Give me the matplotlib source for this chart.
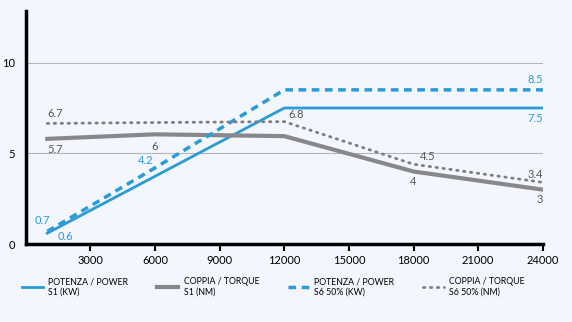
import matplotlib.pyplot as plt

plt.rcParams['font.family'] = ['Lato', 'DejaVu Sans']

rpm_power_s1 = [1000, 12000, 24000]
power_s1 = [0.6, 7.5, 7.5]

rpm_power_s6 = [1000, 6000, 12000, 24000]
power_s6 = [0.7, 4.2, 8.5, 8.5]

rpm_torque = [1000, 6000, 12000, 18000, 24000]
torque_s1 = [5.8, 6.05, 5.95, 4.0, 3.0]
torque_s6 = [6.65, 6.7, 6.75, 4.4, 3.4]

x_ticks = [3000, 6000, 9000, 12000, 15000, 18000, 21000, 24000]
y_ticks = [0, 5, 10]

blue = '#2a9bd5'
grey = '#88888c'
bg = '#f3f6fc'

fig = plt.figure(figsize=(5.72, 3.22), dpi=100, facecolor=bg)
ax = fig.add_axes([0.045, 0.242, 0.904, 0.724], facecolor=bg)

ax.plot(rpm_power_s1, power_s1, color=blue, lw=2, label='POTENZA / POWER\nS1 (KW)')
ax.plot(rpm_torque, torque_s1, color=grey, lw=3, label='COPPIA / TORQUE\nS1 (NM)')
ax.plot(rpm_power_s6, power_s6, color=blue, lw=2.5, ls=(0, (2.2, 1.6)),
        label='POTENZA / POWER\nS6 50% (KW)')
ax.plot(rpm_torque, torque_s6, color='#7d7d82', lw=2, ls=(0, (0.5, 2.0)),
        dash_capstyle='round', label='COPPIA / TORQUE\nS6 50% (NM)')

# value labels
fs = 8
ax.text(1000, 6.9, '6.7', color='#555555', fontsize=fs, ha='left', va='bottom')
ax.text(1000, 5.5, '5.7', color='#555555', fontsize=fs, ha='left', va='top')
ax.text(1150, 1.0, '0.7', color=blue, fontsize=fs, ha='right', va='bottom')
ax.text(1500, 0.4, '0.6', color=blue, fontsize=fs, ha='left', va='center')
ax.text(5900, 4.3, '4.2', color=blue, fontsize=fs, ha='right', va='bottom')
ax.text(6000, 5.7, '6', color='#555555', fontsize=fs, ha='center', va='top')
ax.text(12200, 6.85, '6.8', color='#555555', fontsize=fs, ha='left', va='bottom')
ax.text(24000, 8.75, '8.5', color=blue, fontsize=fs, ha='right', va='bottom')
ax.text(24000, 7.25, '7.5', color=blue, fontsize=fs, ha='right', va='top')
ax.text(18300, 4.55, '4.5', color='#555555', fontsize=fs, ha='left', va='bottom')
ax.text(18000, 3.75, '4', color='#555555', fontsize=fs, ha='center', va='top')
ax.text(24000, 3.55, '3.4', color='#555555', fontsize=fs, ha='right', va='bottom')
ax.text(24000, 2.75, '3', color='#555555', fontsize=fs, ha='right', va='top')

ax.set_xlim(0, 24000)
ax.set_ylim(0, 12.85)
ax.set_xticks(x_ticks)
ax.set_yticks(y_ticks)
ax.tick_params(axis='x', length=5, width=1.5, labelsize=8, pad=3)
ax.tick_params(axis='y', length=0, labelsize=8, pad=8)
for s in ['top', 'right']:
    ax.spines[s].set_visible(False)
for s in ['left', 'bottom']:
    ax.spines[s].set_linewidth(2.5)
ax.grid(True, axis='y', color='#b5b5b8', lw=0.8)
ax.set_axisbelow(True)

fig.legend(loc='lower left', bbox_to_anchor=(0.025, 0.055), ncol=4, frameon=False,
           fontsize=6.3, handlelength=2.4, columnspacing=3.3, handletextpad=0.6)

plt.savefig('out.png', dpi=100, facecolor=bg)
